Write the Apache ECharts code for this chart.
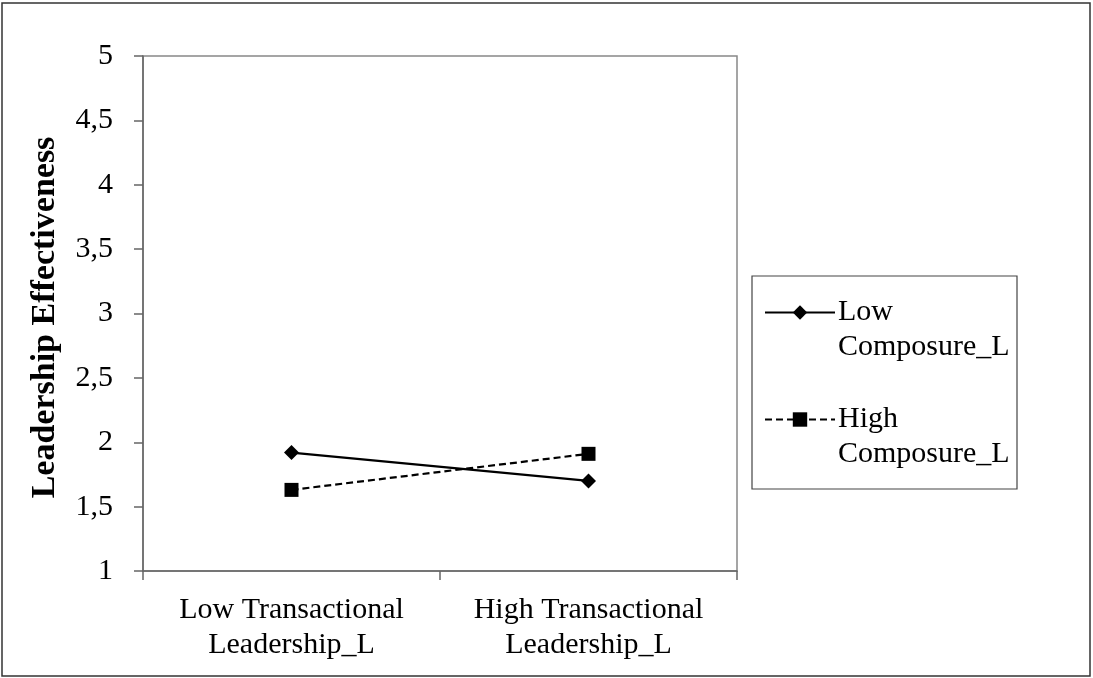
<!DOCTYPE html>
<html><head><meta charset="utf-8">
<script src="https://cdn.jsdelivr.net/npm/echarts@6/dist/echarts.min.js"></script>
<style>html,body{margin:0;padding:0;background:#fff}#c{width:1093px;height:678px}</style>
</head><body><div id="c"></div>
<script>
const categories = ['Low Transactional\nLeadership_L', 'High Transactional\nLeadership_L'];
const seriesNames = ['Low\nComposure_L', 'High\nComposure_L'];
const lowComposure = [1.92, 1.70];
const highComposure = [1.63, 1.91];
const yTicks = ['1', '1,5', '2', '2,5', '3', '3,5', '4', '4,5', '5'];

const font = 'Liberation Serif';
const chart = echarts.init(document.getElementById('c'), null, {renderer: 'canvas'});
chart.setOption({
  backgroundColor: '#fff',
  animation: false,
  graphic: [{
    type: 'rect', shape: {x: 2, y: 3, width: 1088, height: 673},
    style: {fill: 'none', stroke: '#333', lineWidth: 1.5}, silent: true
  }, {
    type: 'rect', shape: {x: 752, y: 276, width: 265, height: 213},
    style: {fill: 'none', stroke: '#444', lineWidth: 1.2}, silent: true
  }],
  grid: {left: 143, top: 56, right: 356, bottom: 107, show: true, borderColor: '#888', borderWidth: 1.5},
  legend: {
    orient: 'vertical', left: 764, top: 260,
    padding: 0, itemGap: 2,
    itemWidth: 70, itemHeight: 18,
    data: seriesNames,
    formatter: n => '\n' + n,
    textStyle: {fontFamily: font, fontSize: 30, color: '#000', lineHeight: 35, padding: [0, 0, 0, -2]}
  },
  xAxis: {
    type: 'category', data: categories, boundaryGap: true,
    axisLine: {lineStyle: {color: '#666', width: 1.5}},
    axisTick: {show: true, interval: 0, length: 9, lineStyle: {color: '#666', width: 1.5}},
    axisLabel: {interval: 0, hideOverlap: false, fontFamily: font, fontSize: 30, color: '#000', lineHeight: 35, margin: 22}
  },
  yAxis: {
    type: 'value', min: 1, max: 5, interval: 0.5,
    name: 'Leadership Effectiveness', nameLocation: 'middle', nameGap: 81,
    nameTextStyle: {fontFamily: font, fontSize: 34, fontWeight: 'bold', color: '#000', padding: [0, 0, 0, -8]},
    axisLine: {show: true, lineStyle: {color: '#666', width: 1.5}},
    axisTick: {show: true, length: 9, lineStyle: {color: '#666', width: 1.5}},
    splitLine: {show: false},
    axisLabel: {fontFamily: font, fontSize: 30, color: '#000', margin: 30,
      formatter: v => yTicks[Math.round((v - 1) * 2)]}
  },
  series: [{
    name: seriesNames[0], type: 'line', data: lowComposure,
    symbol: 'diamond', symbolSize: 15,
    lineStyle: {color: '#000', width: 2.2, type: 'solid'},
    itemStyle: {color: '#000'}
  }, {
    name: seriesNames[1], type: 'line', data: highComposure,
    symbol: 'rect', symbolSize: 14,
    lineStyle: {color: '#000', width: 2.2, type: [7, 4]},
    itemStyle: {color: '#000'}
  }]
});
</script></body></html>
